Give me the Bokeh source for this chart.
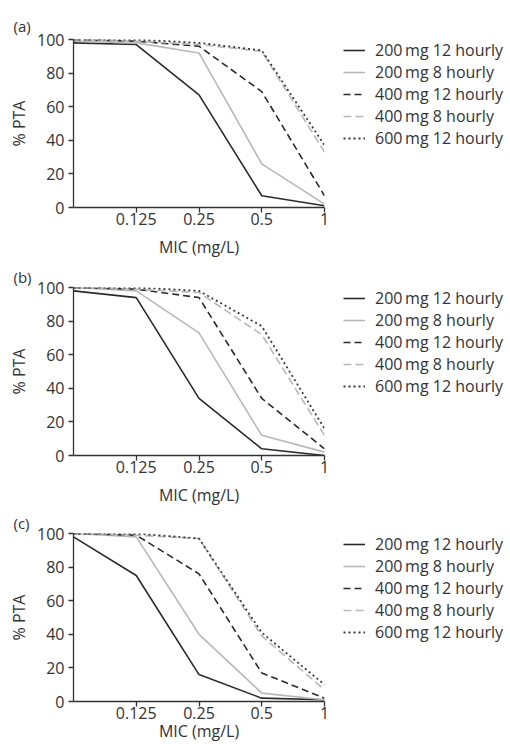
from bokeh.plotting import figure
from bokeh.models import Legend, LegendItem, FixedTicker, Title, Range1d
from bokeh.layouts import column, row
from bokeh.embed import file_html
from bokeh.resources import INLINE

# ---- data ----
mic = [0.0625, 0.125, 0.25, 0.5, 1]
x_ticks = [0.125, 0.25, 0.5, 1]
x_tick_labels = ["0.125", "0.25", "0.5", "1"]
y_ticks = [0, 20, 40, 60, 80, 100]
regimens = ["200\u2009mg 12 hourly", "200\u2009mg 8 hourly", "400\u2009mg 12 hourly",
            "400\u2009mg 8 hourly", "600\u2009mg 12 hourly"]
panel_tags = ["(a)", "(b)", "(c)"]

a_200_12 = [98, 97, 67, 7, 1]
a_200_8 = [99, 98, 92, 26, 2]
a_400_12 = [100, 99, 96, 69, 7]
a_400_8 = [100, 99, 97, 93, 33]
a_600_12 = [100, 100, 98, 93.5, 37]

b_200_12 = [98, 94, 34, 4, 0]
b_200_8 = [100, 98, 73, 12, 2]
b_400_12 = [100, 99, 94, 34, 4]
b_400_8 = [100, 99, 97, 72, 12]
b_600_12 = [100, 100, 98, 77, 16]

c_200_12 = [98, 75, 16, 2, 1]
c_200_8 = [100, 98, 40, 5, 1]
c_400_12 = [100, 99, 76, 17, 2]
c_400_8 = [100, 99, 97, 39, 7]
c_600_12 = [100, 100, 97, 41, 10]

panels = [
    [a_200_12, a_200_8, a_400_12, a_400_8, a_600_12],
    [b_200_12, b_200_8, b_400_12, b_400_8, b_600_12],
    [c_200_12, c_200_8, c_400_12, c_400_8, c_600_12],
]

# ---- styles ----
DARK = "#2a2a2a"
LIGHT = "#b8b8b8"
styles = [
    dict(line_color=DARK, line_dash="solid", line_width=1.6),
    dict(line_color=LIGHT, line_dash="solid", line_width=1.6),
    dict(line_color=DARK, line_dash="7 4", line_width=1.6),
    dict(line_color=LIGHT, line_dash="8 4", line_width=1.6),
    dict(line_color="#3a3a3a", line_dash="2 3", line_width=1.8),
]
FONT = "Open Sans"
TXT = "#333333"
FRAME_H = 168
FRAME_W = 251
tops = [39, 27, 25]
bottoms = [53, 53, 43]
title_standoffs = [8, 2, 2]
label_standoffs = [8, 8, -2]
LEFT = 73
PLOT_RIGHT = 10
TOTAL_W = 510


def make_panel(tag, series, top, bottom, tstand, lstand):
    height = top + FRAME_H + bottom
    p = figure(width=LEFT + FRAME_W + PLOT_RIGHT, height=height, x_axis_type="log",
               x_range=Range1d(mic[0], mic[-1]), y_range=Range1d(0, 100),
               output_backend="svg", toolbar_location=None,
               min_border_left=LEFT, min_border_right=PLOT_RIGHT,
               min_border_top=top, min_border_bottom=bottom)
    p.outline_line_color = None
    p.grid.visible = False
    p.background_fill_color = "white"
    p.border_fill_color = "white"

    for ys, st in zip(series, styles):
        p.line(mic, ys, **st)

    p.xaxis.ticker = FixedTicker(ticks=x_ticks)
    p.xaxis.major_label_overrides = dict(zip(x_ticks, x_tick_labels))
    p.yaxis.ticker = FixedTicker(ticks=y_ticks)
    p.xaxis.axis_label = "MIC (mg/L)"
    p.yaxis.axis_label = "% PTA"
    for ax in (p.xaxis[0], p.yaxis[0]):
        ax.minor_tick_line_color = None
        ax.axis_line_color = TXT
        ax.axis_line_width = 1.3
        ax.major_tick_line_color = TXT
        ax.major_tick_line_width = 1.3
        ax.major_tick_out = 5
        ax.major_tick_in = 0
        ax.major_label_text_font = FONT
        ax.major_label_text_font_size = "16px"
        ax.major_label_text_color = TXT
        ax.axis_label_text_font = FONT
        ax.axis_label_text_font_size = "16px"
        ax.axis_label_text_font_style = "normal"
        ax.axis_label_text_color = TXT
    p.xaxis.major_label_standoff = 0
    p.xaxis.axis_label_standoff = lstand
    p.yaxis.major_label_standoff = 4
    p.yaxis.axis_label_standoff = 4

    p.add_layout(Title(text=tag, align="left", offset=-60, standoff=tstand,
                       text_font=FONT, text_font_size="15px",
                       text_font_style="normal", text_color=TXT), "above")

    # legend in its own blank figure to the right
    lw = TOTAL_W - (LEFT + FRAME_W + PLOT_RIGHT)
    q = figure(width=lw, height=height, x_axis_type="log",
               x_range=Range1d(mic[0], mic[-1]), y_range=Range1d(0, 100),
               output_backend="svg", toolbar_location=None,
               x_axis_location=None, y_axis_location=None,
               min_border_left=19 - PLOT_RIGHT, min_border_right=0,
               min_border_top=top, min_border_bottom=0)
    q.outline_line_color = None
    q.grid.visible = False
    q.background_fill_color = "white"
    q.border_fill_color = "white"
    items = []
    for name, ys, st in zip(regimens, series, styles):
        r = q.line(mic, ys, visible=False, **st)
        items.append(LegendItem(label=name, renderers=[r]))
    legend = Legend(items=items, location="top_left",
                    margin=0, padding=0, spacing=0,
                    glyph_width=22, glyph_height=20, label_height=20,
                    label_standoff=10, label_text_font=FONT,
                    label_text_font_size="16px", label_text_color=TXT,
                    border_line_color=None, background_fill_alpha=0,
                    inactive_fill_alpha=0, click_policy="none")
    q.add_layout(legend)
    return row(p, q, spacing=0)


rows = [make_panel(*args) for args in
        zip(panel_tags, panels, tops, bottoms, title_standoffs, label_standoffs)]
layout = column(*rows, spacing=0)

open("out.html", "w").write(file_html(layout, INLINE))
